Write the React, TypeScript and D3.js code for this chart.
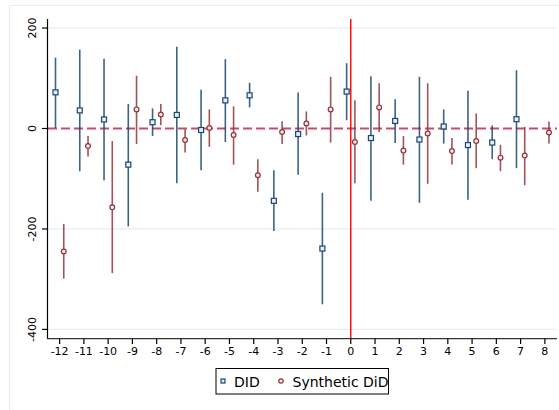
import React from "react";
import * as d3 from "d3";

const periods = [-12, -11, -10, -9, -8, -7, -6, -5, -4, -3, -2, -1, 0, 1, 2, 3, 4, 5, 6, 7, 8];

// DID estimates (no estimate at period 8)
const didEst: (number | null)[] = [72, 36, 18, -72, 12.5, 27, -3, 56, 66, -144, -11, -239, 73.5, -19, 15, -22, 4, -33, -28, 18.5, null];
const didLo: (number | null)[] = [1, -85, -103, -195, -15, -109, -83, -27, 42, -204, -92, -350, 16.5, -144, -29, -148, -30, -142, -61, -79, null];
const didHi: (number | null)[] = [141, 157, 139, 49, 40, 163, 77, 138, 91, -83, 71.5, -128, 130, 104, 58, 103, 38, 75, 6, 116, null];

// Synthetic DiD estimates
const sdidEst = [-245, -35, -157, 38, 28, -23, 1, -13, -93, -7, 10, 38, -27, 42, -44, -10, -45, -25, -58, -54, -8];
const sdidLo = [-299, -56, -288, -31, 6.5, -48, -36.5, -72, -126, -31, -14, -28, -109, -7, -72, -110, -71.5, -79, -85, -113, -30];
const sdidHi = [-190, -15, -25, 105, 49, -1.5, 38, 44, -61, 14.5, 34, 103, 56, 90, -15, 90, -19, 30, -32.5, 3, 14];

const yTicks = [-400, -200, 0, 200];
const seriesNames = ["DID", "Synthetic DiD"];

const NAVY = "#1a476f";
const MAROON = "#90353b";
const GRID = "#e6eef0";
const FONT = "DejaVu Sans, sans-serif";

export default function App() {
  const W = 559, H = 410;
  const x = d3.scaleLinear().domain([-12.5, 8.5]).range([47.5, 557]);
  const y = d3.scaleLinear().domain([-418.5, 218]).range([338.7, 19]);
  const off = 0.17;

  return (
    <svg width={W} height={H} style={{ position: "absolute", left: 0, top: 0, background: "#fff" }} fontFamily={FONT}>
      <rect x={0} y={0} width={W} height={H} fill="#fff" />
      {/* graph region frame */}
      <rect x={9.5} y={5.5} width={W + 20} height={H + 20} fill="none" stroke={GRID} strokeWidth={1.2} />
      {/* grid lines */}
      {yTicks.filter((t) => t !== 0).map((t) => (
        <line key={t} x1={48} x2={556} y1={y(t)} y2={y(t)} stroke={GRID} strokeWidth={1.2} />
      ))}
      {/* zero reference line */}
      <line x1={48} x2={557} y1={y(0)} y2={y(0)} stroke="#cc4a6a" strokeWidth={1.8} strokeDasharray="9,4" />
      {/* event line */}
      <line x1={x(0)} x2={x(0)} y1={19} y2={338.7} stroke="#ff0000" strokeWidth={1.4} />

      {/* DID spikes & markers */}
      {periods.map((p, i) =>
        didEst[i] == null ? null : (
          <g key={"d" + p}>
            <line x1={x(p - off)} x2={x(p - off)} y1={y(didLo[i] as number)} y2={y(didHi[i] as number)} stroke={NAVY} strokeWidth={1.6} strokeOpacity={0.85} />
            <rect x={x(p - off) - 2.5} y={y(didEst[i] as number) - 2.5} width={5} height={5} fill="#e8eef4" stroke={NAVY} strokeWidth={1.2} />
          </g>
        )
      )}
      {/* SDID spikes & markers */}
      {periods.map((p, i) => (
        <g key={"s" + p}>
          <line x1={x(p + off)} x2={x(p + off)} y1={y(sdidLo[i])} y2={y(sdidHi[i])} stroke={MAROON} strokeWidth={1.6} strokeOpacity={0.85} />
          <circle cx={x(p + off)} cy={y(sdidEst[i])} r={2.4} fill="#f3e6e7" stroke={MAROON} strokeWidth={1.2} />
        </g>
      ))}

      {/* y axis */}
      <line x1={47.5} x2={47.5} y1={19} y2={339} stroke="#000" strokeWidth={1.2} />
      {yTicks.map((t) => (
        <g key={"yt" + t}>
          <line x1={42} x2={47.5} y1={y(t)} y2={y(t)} stroke="#000" strokeWidth={1.2} />
          <text transform={`translate(35.5,${y(t)}) rotate(-90)`} textAnchor="middle" fontSize={11} fill="#000">
            {t}
          </text>
        </g>
      ))}
      {/* x axis */}
      <line x1={47} x2={557} y1={338.7} y2={338.7} stroke="#333" strokeWidth={1.2} />
      {periods.map((p) => (
        <g key={"xt" + p}>
          <line x1={x(p)} x2={x(p)} y1={338.7} y2={344} stroke="#000" strokeWidth={1.2} />
          <text x={x(p)} y={355} textAnchor="middle" fontSize={11} fill="#000">
            {p}
          </text>
        </g>
      ))}

      {/* legend */}
      <rect x={216} y={368.5} width={172.5} height={25.5} fill="#fff" stroke="#000" strokeWidth={1} />
      <rect x={221} y={379} width={4} height={4} fill="#e8eef4" stroke={NAVY} strokeWidth={1.2} />
      <text x={234} y={386.5} fontSize={14} fill="#000">{seriesNames[0]}</text>
      <circle cx={281} cy={381} r={2.2} fill="#f3e6e7" stroke={MAROON} strokeWidth={1.2} />
      <text x={292.5} y={386.5} fontSize={14} fill="#000">{seriesNames[1]}</text>
    </svg>
  );
}
